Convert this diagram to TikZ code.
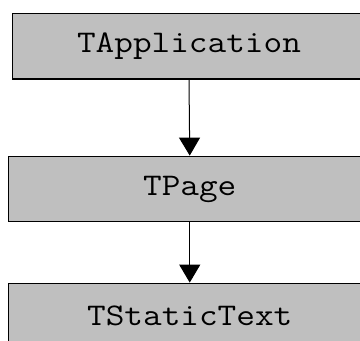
\documentclass[tikz,border=0pt]{standalone}
\usepackage{fontspec}
\setmonofont{Latin Modern Mono}[FakeStretch=1.15]
\usetikzlibrary{
    arrows.meta,
    positioning
}
\tikzset{
    % Colors
    box fill/.style={fill=black!25},
    %
    % Class boxes
    class box/.style={box fill,draw=black,line width=1.3pt,rectangle,
        minimum height=65.5pt,inner sep=0pt,
        font=\fontsize{31.5pt}{34pt}\selectfont\ttfamily},
    %
    % Arrows
    arrow tip/.tip={Triangle[width=21pt,length=18pt]},
    arr/.style={-{arrow tip},line width=1pt},
}

\begin{document}
\begin{tikzpicture}[x=1pt,y=1pt]
        \useasboundingbox (0,0) rectangle (360,-341);
        \clip (0,0) rectangle (360,-341);
        \node[class box,minimum width=353pt] (TApplication) at (189,-46.25) {TApplication};
        \node[class box,minimum width=362.5pt] (TPage) at (189.75,-189) {TPage};
        \node[class box,minimum width=362.5pt] (TStaticText) at (189.75,-316) {TStaticText};
        \draw[arr] (TApplication.south) -- (TPage.north);
        \draw[arr] (TPage.south) -- (TStaticText.north);
    \end{tikzpicture}
\end{document}
